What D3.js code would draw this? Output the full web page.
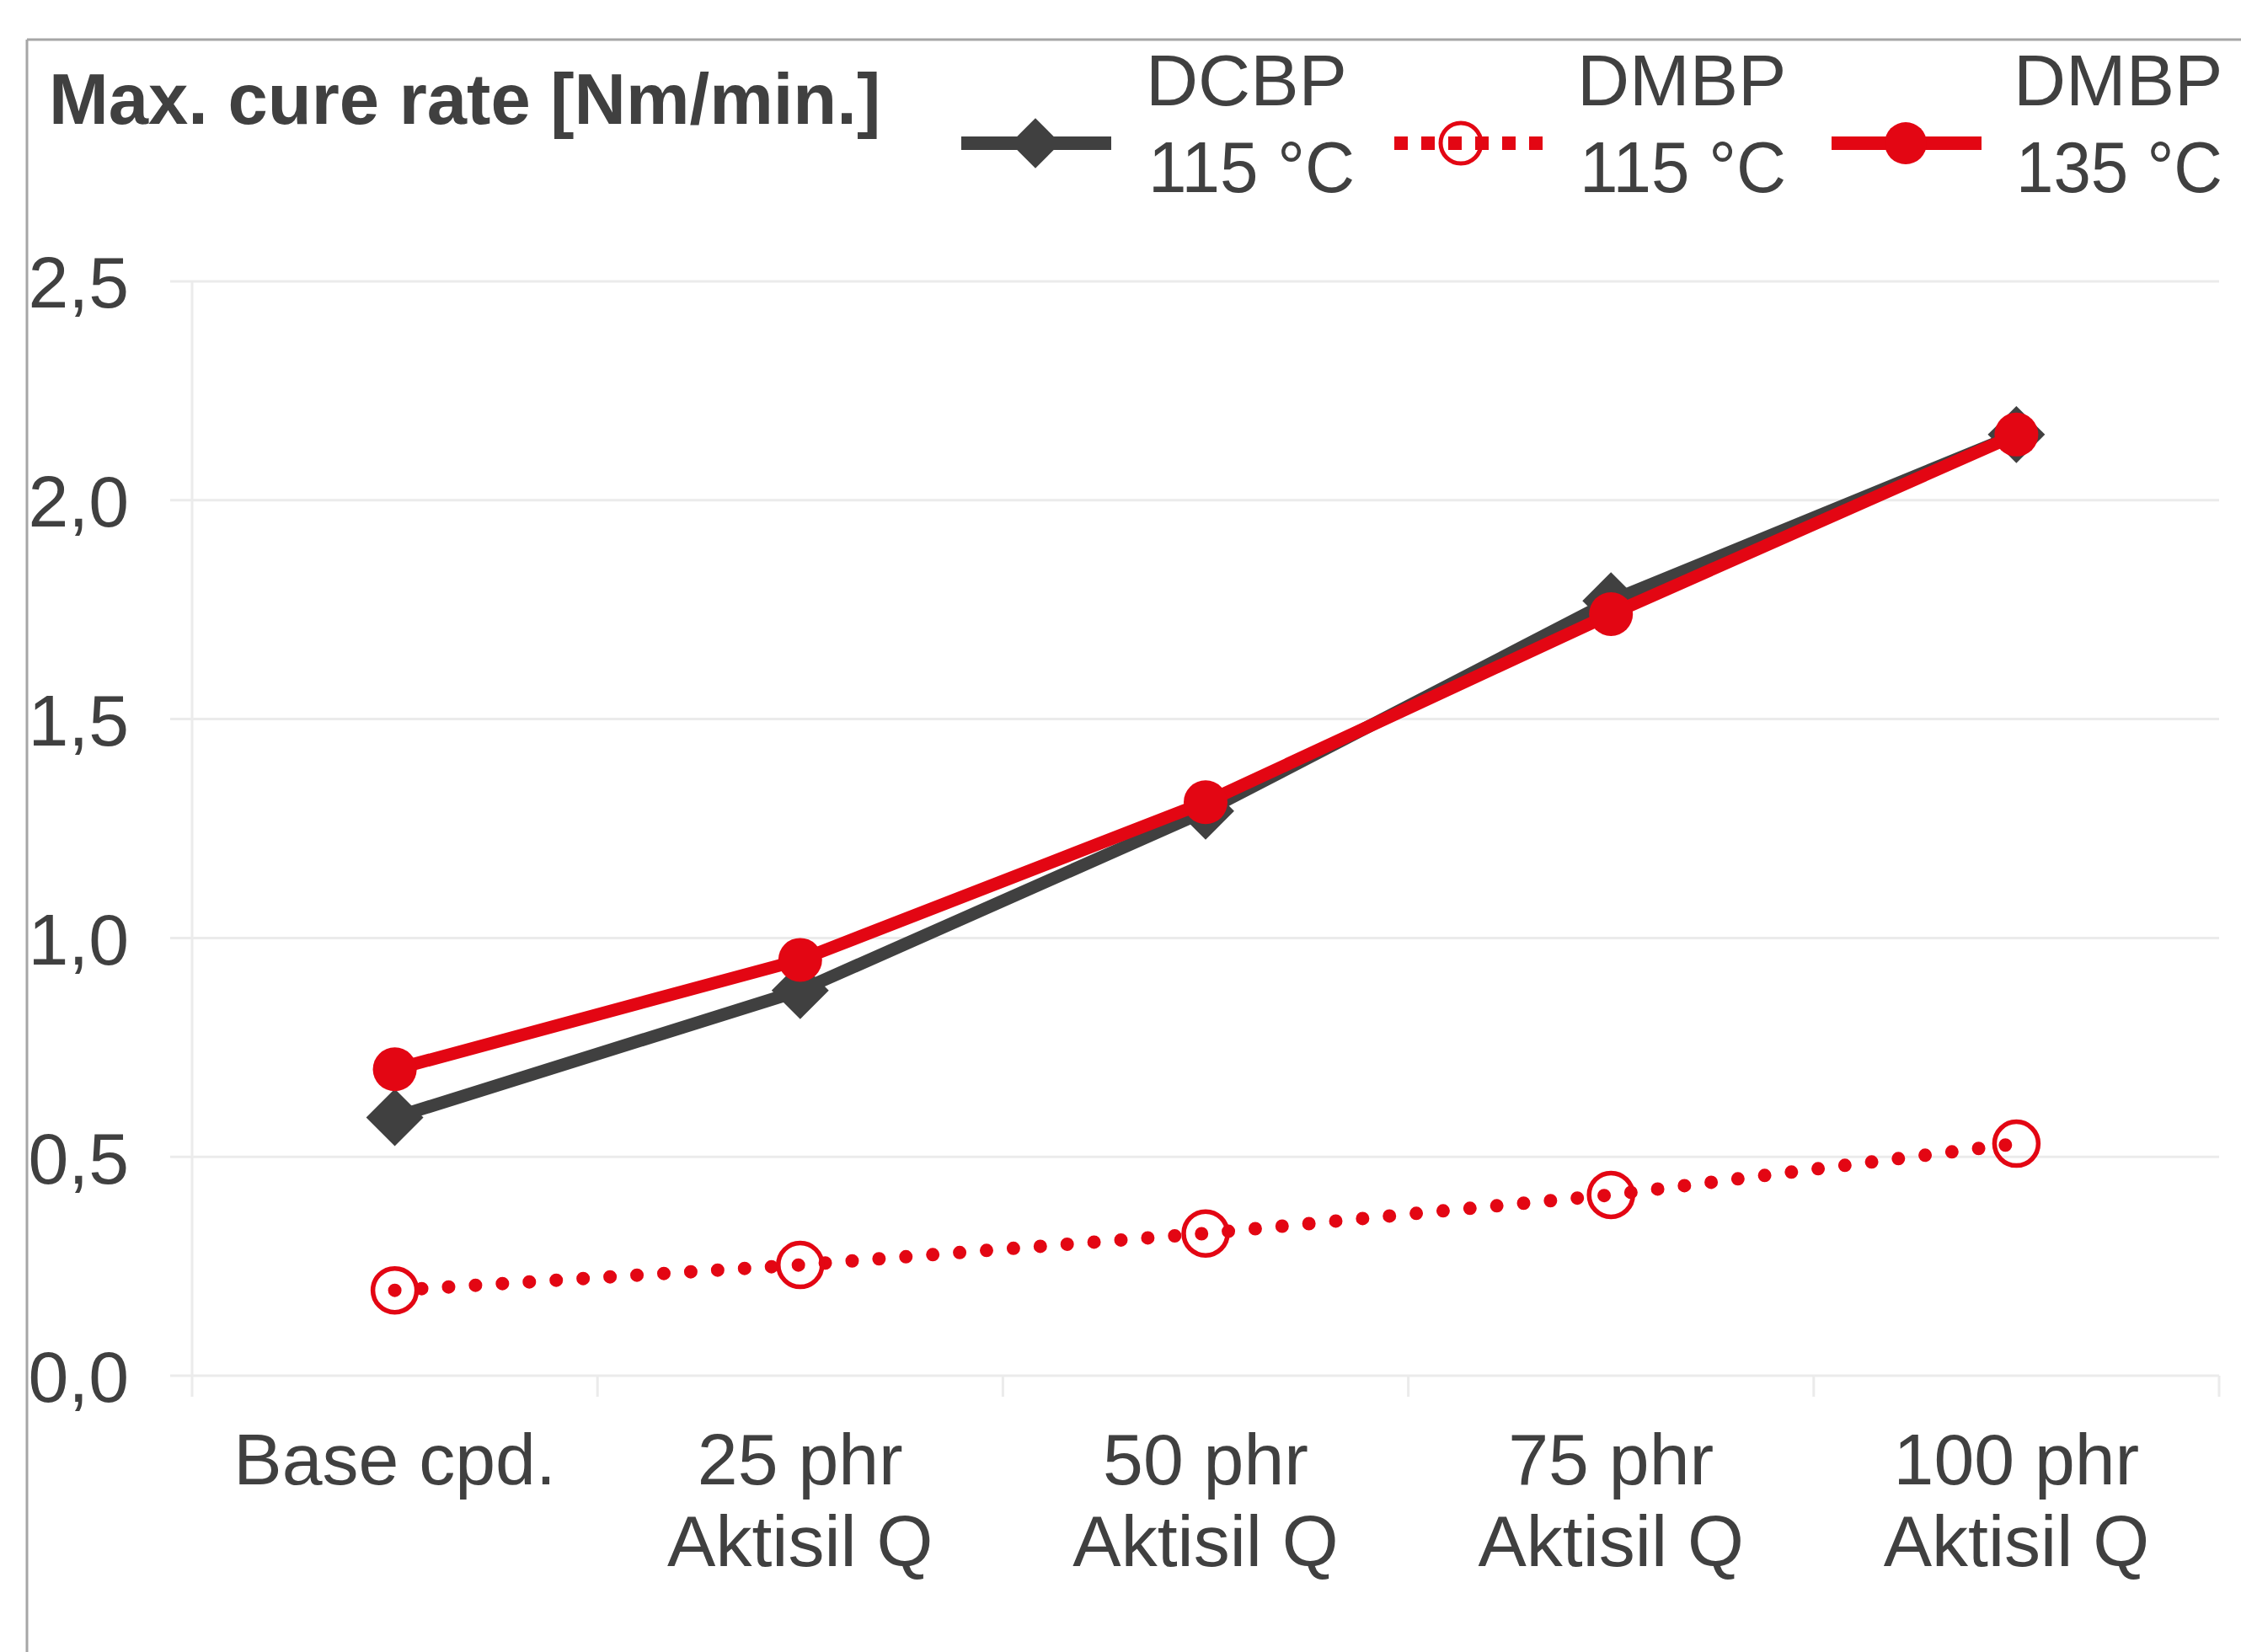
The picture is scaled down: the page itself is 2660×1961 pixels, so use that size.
<!DOCTYPE html>
<html><head><meta charset="utf-8">
<script src="https://cdn.jsdelivr.net/npm/d3@7"></script>
<style>
html,body{margin:0;padding:0;background:#fff;}
text{font-family:"Liberation Sans",Arial,sans-serif;fill:#404040;}
</style></head>
<body>
<svg id="chart" width="2660" height="1961"></svg>
<script>
// ---- data ----
const categories = ["Base cpd.", "25 phr\nAktisil Q", "50 phr\nAktisil Q", "75 phr\nAktisil Q", "100 phr\nAktisil Q"];
const dcbp115 = [0.59, 0.88, 1.29, 1.77, 2.15];
const dmbp115 = [0.195, 0.253, 0.325, 0.413, 0.53];
const dmbp135 = [0.70, 0.95, 1.31, 1.74, 2.15];
const yTicks = [0, 0.5, 1.0, 1.5, 2.0, 2.5];
const seriesNames = [["DCBP", "115 °C"], ["DMBP", "115 °C"], ["DMBP", "135 °C"]];
const title = "Max. cure rate [Nm/min.]";

const GREY = "#404040", RED = "#e30613", GRID = "#ebebeb";
const svg = d3.select("#chart");

// frame (top and left)
svg.append("line").attr("x1", 32).attr("x2", 2660).attr("y1", 47).attr("y2", 47).attr("stroke", "#a6a6a6").attr("stroke-width", 3);
svg.append("line").attr("x1", 32).attr("x2", 32).attr("y1", 47).attr("y2", 1961).attr("stroke", "#a6a6a6").attr("stroke-width", 3);

const plotL = 228, plotR = 2634, plotT = 334, plotB = 1633;
const x = d3.scaleBand().domain(categories).range([plotL, plotR]);
const y = d3.scaleLinear().domain([0, 2.5]).range([plotB, plotT]);
const cx = c => x(c) + x.bandwidth() / 2;

// gridlines
svg.append("g").selectAll("line").data(yTicks).join("line")
  .attr("x1", 202).attr("x2", plotR).attr("y1", d => y(d)).attr("y2", d => y(d))
  .attr("stroke", GRID).attr("stroke-width", 3);
svg.append("line").attr("x1", plotL).attr("x2", plotL).attr("y1", plotT).attr("y2", plotB + 25)
  .attr("stroke", GRID).attr("stroke-width", 3);
// category boundary ticks
const bounds = categories.map(c => x(c)).concat([plotR]);
svg.append("g").selectAll("line").data(bounds.slice(1)).join("line")
  .attr("x1", d => d).attr("x2", d => d).attr("y1", plotB).attr("y2", plotB + 25)
  .attr("stroke", GRID).attr("stroke-width", 3);

// y axis labels
const fmt = d3.formatLocale({decimal: ",", thousands: ".", grouping: [3], currency: ["", "€"]}).format(".1f");
const yAxis = svg.append("g").attr("transform", "translate(202,0)")
  .call(d3.axisLeft(y).tickValues(yTicks).tickFormat(fmt).tickSize(0).tickPadding(49));
yAxis.select(".domain").remove();
yAxis.selectAll("text").attr("font-size", 86).attr("fill", GREY).attr("font-family", "Liberation Sans, Arial, sans-serif")
  .attr("dy", "0.36em");

// x axis labels
const xAxis = svg.append("g").attr("transform", `translate(0,${plotB})`)
  .call(d3.axisBottom(x).tickSize(0).tickFormat(""));
xAxis.select(".domain").remove();
xAxis.selectAll(".tick text").remove();
svg.append("g").selectAll("text").data(categories).join("text")
  .attr("x", d => cx(d)).attr("y", 1762).attr("text-anchor", "middle").attr("font-size", 86)
  .each(function(d) {
    const t = d3.select(this);
    d.split("\n").forEach((s, i) => t.append("tspan").attr("x", cx(d)).attr("dy", i === 0 ? 0 : 97).text(s));
  });

// lines
const line = d3.line().x((d, i) => cx(categories[i])).y(d => y(d));
svg.append("path").datum(dmbp115).attr("d", line).attr("fill", "none").attr("stroke", RED)
  .attr("stroke-width", 16).attr("stroke-linecap", "round").attr("stroke-dasharray", "0,32");
svg.append("path").datum(dcbp115).attr("d", line).attr("fill", "none").attr("stroke", GREY).attr("stroke-width", 15)
  .attr("stroke-linejoin", "round");
// markers
const diamond = d3.symbol().type(d3.symbolSquare).size(48 * 48);
svg.append("g").selectAll("path").data(dcbp115).join("path").attr("d", diamond)
  .attr("transform", (d, i) => `translate(${cx(categories[i])},${y(d)}) rotate(45)`).attr("fill", GREY);
svg.append("path").datum(dmbp135).attr("d", line).attr("fill", "none").attr("stroke", RED).attr("stroke-width", 15)
  .attr("stroke-linejoin", "round");
svg.append("g").selectAll("circle").data(dmbp135).join("circle")
  .attr("cx", (d, i) => cx(categories[i])).attr("cy", d => y(d)).attr("r", 26).attr("fill", RED);
svg.append("g").selectAll("circle").data(dmbp115).join("circle")
  .attr("cx", (d, i) => cx(categories[i])).attr("cy", d => y(d)).attr("r", 26).attr("fill", "none")
  .attr("stroke", RED).attr("stroke-width", 5.5);

// title
svg.append("text").attr("x", 58).attr("y", 147).attr("font-size", 85).attr("font-weight", "bold").text(title);

// legend
const legX = [1141, 1655, 2174];
const legY = 170;
const lg = svg.append("g");
// DCBP
lg.append("line").attr("x1", legX[0]).attr("x2", legX[0] + 178).attr("y1", legY).attr("y2", legY).attr("stroke", GREY).attr("stroke-width", 16);
lg.append("path").attr("d", d3.symbol().type(d3.symbolSquare).size(42 * 42)).attr("transform", `translate(${legX[0] + 88},${legY}) rotate(45)`).attr("fill", GREY);
// DMBP 115
lg.append("line").attr("x1", legX[1]).attr("x2", legX[1] + 178).attr("y1", legY).attr("y2", legY).attr("stroke", RED).attr("stroke-width", 16).attr("stroke-dasharray", "16,16");
lg.append("circle").attr("cx", legX[1] + 79).attr("cy", legY).attr("r", 24).attr("fill", "none").attr("stroke", RED).attr("stroke-width", 5);
// DMBP 135
lg.append("line").attr("x1", legX[2]).attr("x2", legX[2] + 178).attr("y1", legY).attr("y2", legY).attr("stroke", RED).attr("stroke-width", 16);
lg.append("circle").attr("cx", legX[2] + 88).attr("cy", legY).attr("r", 25).attr("fill", RED);
const legTextX = [1360, 1872, 2390];
seriesNames.forEach((n, i) => {
  const t = lg.append("text").attr("x", legTextX[i]).attr("y", 125).attr("font-size", 86);
  t.append("tspan").attr("x", legTextX[i]).text(n[0]);
  t.append("tspan").attr("x", legTextX[i] + 3).attr("dy", 103)
    .attr("textLength", 245).attr("lengthAdjust", "spacingAndGlyphs").text(n[1]);
});
</script>
</body></html>
